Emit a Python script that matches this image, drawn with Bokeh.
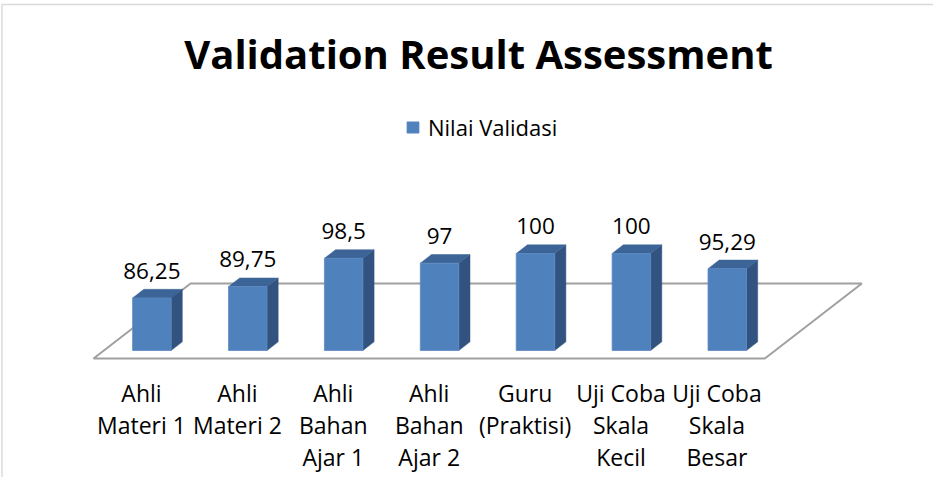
from bokeh.plotting import figure
from bokeh.models import Range1d, ColumnDataSource, Label, Legend, LegendItem, BoxAnnotation
from bokeh.core.properties import value
from bokeh.embed import file_html
from bokeh.resources import INLINE

# ---------------- data ----------------
title_text = "Validation Result Assessment"
series_name = "Nilai Validasi"
categories = [
    "Ahli\nMateri 1",
    "Ahli\nMateri 2",
    "Ahli\nBahan\nAjar 1",
    "Ahli\nBahan\nAjar 2",
    "Guru\n(Praktisi)",
    "Uji Coba\nSkala\nKecil",
    "Uji Coba\nSkala\nBesar",
]
values = [86.25, 89.75, 98.5, 97, 100, 100, 95.29]
axis_min = 70

# ---------------- geometry / style ----------------
W, H = 933, 477
PX_PER_CAT = 95.9      # pixels per category slot
PX_PER_VAL = 3.233     # pixels per value unit
CAT0_PX = 141          # screen x of first category centre (floor front)
FLOOR_PY = 119         # screen y (from bottom) of floor front edge
DEPTH_X = 97 / PX_PER_CAT
DEPTH_Y = 75 / PX_PER_VAL
BAR_W = 0.4015
Z_FRONT, Z_BACK = 0.107, 0.222

FRONT = "#4F81BD"
TOP = "#3C6496"
SIDE = "#32537F"
FLOOR_LINE = "#A0A0A0"
FONT = "Open Sans"


def proj(x, v, z):
    return x + DEPTH_X * z, v + DEPTH_Y * z


def poly(pts):
    xs, ys = zip(*[proj(*p) for p in pts])
    return list(xs), list(ys)


n = len(categories)
p = figure(
    width=W, height=H, output_backend="svg", toolbar_location=None,
    x_range=Range1d(-CAT0_PX / PX_PER_CAT, (W - CAT0_PX) / PX_PER_CAT),
    y_range=Range1d(axis_min - FLOOR_PY / PX_PER_VAL, axis_min + (H - FLOOR_PY) / PX_PER_VAL),
    min_border=0,
)
p.axis.visible = False
p.grid.visible = False
p.outline_line_color = None
p.background_fill_color = "white"

# chart border (left and top visible in the window)
p.add_layout(BoxAnnotation(left=1.5, right=W + 60, bottom=-60, top=H - 4,
                           left_units="screen", right_units="screen",
                           bottom_units="screen", top_units="screen",
                           fill_alpha=0, line_color="#868686", line_width=1.5))

# floor
fx, fy = poly([(-0.5, axis_min, 0), (n - 0.5, axis_min, 0), (n - 0.5, axis_min, 1), (-0.5, axis_min, 1)])
p.patch(fx, fy, fill_color=None, line_color=FLOOR_LINE, line_width=2)

front_xs, front_ys, top_xs, top_ys, side_xs, side_ys = [], [], [], [], [], []
for i, v in enumerate(values):
    xl, xr = i - BAR_W / 2, i + BAR_W / 2
    a, b = poly([(xl, axis_min, Z_FRONT), (xr, axis_min, Z_FRONT), (xr, v, Z_FRONT), (xl, v, Z_FRONT)])
    front_xs.append(a); front_ys.append(b)
    a, b = poly([(xl, v, Z_FRONT), (xr, v, Z_FRONT), (xr, v, Z_BACK), (xl, v, Z_BACK)])
    top_xs.append(a); top_ys.append(b)
    a, b = poly([(xr, axis_min, Z_FRONT), (xr, axis_min, Z_BACK), (xr, v, Z_BACK), (xr, v, Z_FRONT)])
    side_xs.append(a); side_ys.append(b)

p.patches(side_xs, side_ys, fill_color=SIDE, line_color=SIDE, line_width=0.5)
p.patches(top_xs, top_ys, fill_color=TOP, line_color=TOP, line_width=0.5)
front = p.patches(front_xs, front_ys, fill_color=FRONT, line_color="#5A8AC4", line_width=0.8)

# value labels
lab_x, lab_y, lab_t = [], [], []
for i, v in enumerate(values):
    x, y = proj(i, v, Z_BACK)
    lab_x.append(proj(i, v, Z_FRONT)[0])
    lab_y.append(y)
    lab_t.append(("%g" % v).replace(".", ","))
p.text(x=lab_x, y=lab_y, text=lab_t, text_align="center", text_baseline="alphabetic",
       y_offset=-18.5, text_font=value(FONT), text_font_size="22.5px", text_color="black")

# category labels (one row per line)
cx, cy, ct, co = [], [], [], []
for i, c in enumerate(categories):
    for k, line in enumerate(c.split("\n")):
        x, y = proj(i, axis_min, 0)
        cx.append(x); cy.append(y); ct.append(line); co.append(34.5 + 32 * k)
src = ColumnDataSource(dict(x=cx, y=cy, text=ct, yo=co))
p.text(x="x", y="y", text="text", y_offset="yo", source=src, text_align="center",
       text_baseline="alphabetic", text_font=value(FONT), text_font_size="23px", text_color="black")

# title
p.add_layout(Label(x=478, y=H - 53, x_units="screen", y_units="screen", text=title_text,
                   text_align="center", text_baseline="alphabetic", text_font=FONT,
                   text_font_size="40px", text_font_style="bold", text_color="black"))

# legend
legend = Legend(items=[LegendItem(label=series_name, renderers=[front])],
                location=(405, H - 142), orientation="horizontal",
                glyph_width=15, glyph_height=14, label_standoff=8,
                label_text_font=FONT, label_text_font_size="22px", label_text_color="black",
                padding=0, margin=0, spacing=0, border_line_color=None,
                background_fill_alpha=0)
p.add_layout(legend)

open("out.html", "w").write(file_html(p, INLINE))
